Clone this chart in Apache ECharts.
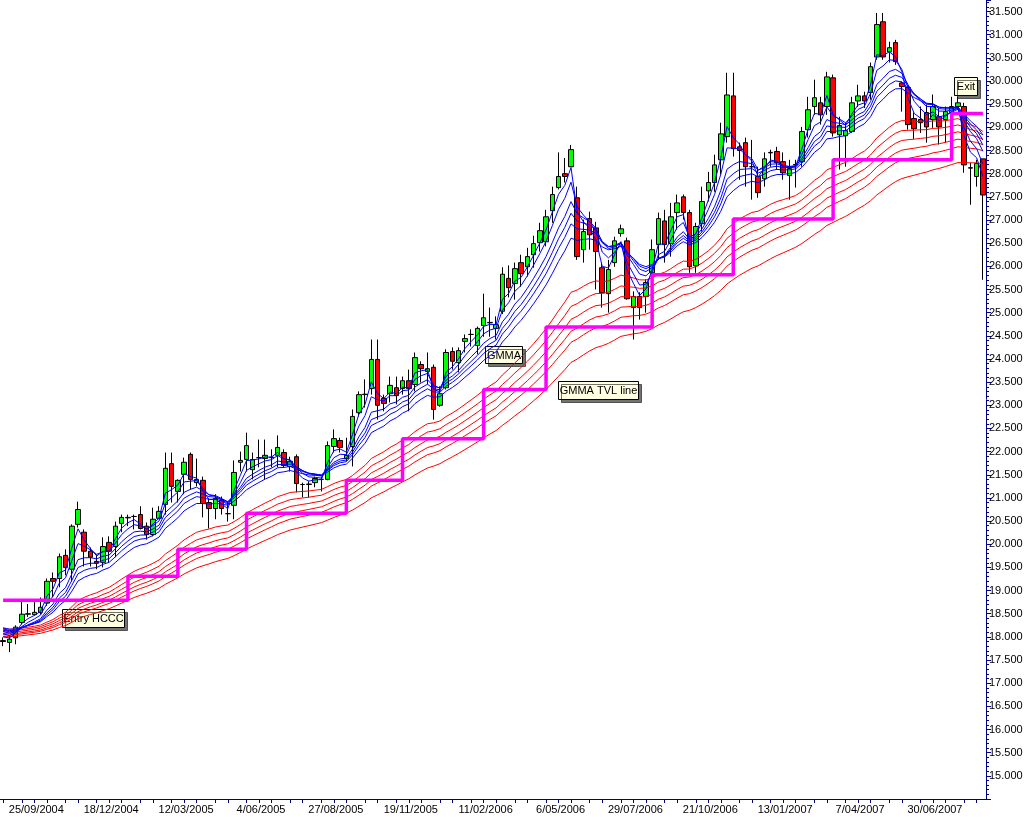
<!DOCTYPE html>
<html><head><meta charset="utf-8">
<script src="https://cdn.jsdelivr.net/npm/echarts@6/dist/echarts.min.js"></script>
<style>html,body{margin:0;padding:0;background:#fff}#c{width:1029px;height:817px}</style>
</head><body><div id="c"></div>
<script>
// ---- data (weekly bars) ----
const firstWeek = [2004, 8, 21]; // year, month, day of first bar
const weekCount = 158;
const opens = [17.92,17.88,17.98,18.31,18.49,18.48,18.53,18.73,19.26,19.26,19.76,19.46,20.43,20.26,19.85,19.63,19.61,20.04,19.95,20.45,
20.57,20.60,20.64,20.39,20.21,20.56,20.86,21.74,21.14,21.51,21.94,21.33,21.38,20.90,20.77,20.95,20.66,20.84,21.77,21.83,
21.61,21.87,21.85,21.87,21.92,21.98,21.68,21.89,21.29,21.29,21.33,21.40,21.40,22.11,22.24,21.85,22.11,22.84,23.23,23.36,
23.99,23.15,23.25,23.38,23.36,23.53,23.45,23.88,23.73,23.82,23.00,23.38,24.16,23.92,24.38,24.53,24.29,24.72,24.78,24.66,
25.03,25.74,25.63,26.08,25.99,26.25,26.51,26.53,27.20,27.70,28.00,28.15,27.48,26.36,27.03,26.83,25.97,25.41,26.08,26.71,
26.55,25.11,25.35,25.35,25.86,26.47,26.98,26.49,27.16,27.50,27.16,26.01,26.92,27.63,27.81,28.30,28.80,29.68,28.58,28.67,
28.15,27.94,27.89,28.45,28.48,28.26,27.96,28.19,28.26,28.95,29.45,29.53,29.45,30.07,28.84,28.82,28.91,29.57,29.68,29.75,
30.52,31.28,30.63,30.83,29.96,29.86,29.19,29.17,29.32,29.17,29.23,29.17,29.32,29.45,29.45,28.13,27.94,28.32];
const closes = [17.90,17.95,18.21,18.49,18.50,18.53,18.64,19.20,19.20,19.73,19.50,20.39,20.75,19.85,19.72,19.59,19.95,19.85,20.39,20.58,
20.58,20.60,20.34,20.21,20.54,20.71,21.64,21.25,21.38,21.77,21.40,21.40,20.88,20.77,20.99,20.77,20.66,21.55,21.81,22.13,
21.83,21.87,21.92,21.88,22.09,21.70,21.79,21.31,21.29,21.30,21.42,21.40,22.13,22.28,22.09,21.92,22.76,23.23,23.24,23.99,
23.00,23.04,23.43,23.21,23.53,23.36,24.03,23.79,23.79,22.91,23.25,24.14,23.95,24.18,24.44,24.53,24.66,24.89,24.79,24.74,
25.83,25.54,25.95,25.84,26.21,26.49,26.77,27.07,27.55,27.94,27.94,28.52,26.21,26.75,26.68,26.32,25.43,25.93,26.55,26.81,
25.30,25.35,25.11,25.65,26.36,27.03,26.47,27.07,27.37,27.16,25.99,26.86,27.40,27.81,28.19,28.86,29.70,28.54,28.50,28.15,
28.15,27.59,28.32,28.46,28.24,28.02,28.11,28.20,28.91,29.38,29.64,29.27,30.09,28.88,29.04,28.93,29.53,29.68,29.57,30.31,
31.22,30.52,30.72,30.42,29.88,29.06,28.97,29.10,29.01,29.45,29.01,29.34,29.45,29.53,28.19,28.12,28.22,27.54];
const lows = [17.80,17.67,17.84,18.27,18.43,18.46,18.48,18.67,18.86,19.07,19.33,19.20,20.36,19.52,19.52,19.46,19.50,19.61,19.72,20.26,
20.39,20.32,20.32,20.10,20.17,20.54,20.64,20.90,20.90,21.08,21.18,21.25,20.58,20.34,20.54,20.64,20.49,20.54,21.57,21.57,
21.40,21.66,21.40,21.66,21.66,21.66,21.57,21.12,21.01,21.01,21.23,21.14,21.38,21.98,21.98,21.79,21.68,22.76,22.95,23.23,
22.69,22.87,23.06,23.02,23.23,22.87,23.30,23.49,23.45,22.69,22.97,23.34,23.77,23.71,24.14,24.27,24.10,24.48,24.48,24.42,
24.97,25.33,25.28,25.56,25.78,25.97,26.32,26.43,26.94,27.66,27.81,28.15,26.14,26.08,26.36,25.50,25.11,25.00,25.99,26.64,
25.28,24.42,24.85,25.00,25.50,26.14,26.08,26.21,26.79,27.01,25.86,25.86,26.75,27.40,27.61,27.98,28.67,28.37,27.87,27.72,
27.44,27.48,27.72,28.15,28.09,27.87,27.44,27.70,28.15,28.78,29.27,29.06,29.27,28.80,28.09,28.15,28.88,29.44,29.42,29.60,
30.46,30.46,30.40,30.35,29.34,28.95,28.75,28.88,28.67,28.99,28.63,28.67,29.27,29.38,28.02,27.33,27.72,25.71];
const highs = [17.99,18.03,18.25,18.75,18.71,18.75,18.85,19.26,19.39,19.80,19.89,20.43,20.92,20.32,19.93,19.78,20.15,20.17,20.49,20.64,
20.64,20.64,20.82,20.47,20.79,20.82,21.98,21.98,21.40,21.87,21.98,21.85,21.46,20.99,21.08,21.03,20.92,21.81,22.00,22.41,
21.98,22.26,22.26,22.05,22.35,22.05,21.89,21.94,21.33,21.36,21.46,21.46,22.22,22.48,22.30,22.30,22.91,23.30,23.56,24.42,
24.42,23.23,23.62,23.62,23.62,23.77,24.14,23.95,24.14,23.88,23.41,24.21,24.25,24.25,24.53,24.64,24.70,25.41,25.11,24.92,
25.98,26.02,26.08,26.25,26.40,26.66,26.94,27.22,27.72,28.46,28.34,28.62,27.72,27.01,27.18,26.96,26.08,26.14,26.64,26.90,
26.62,25.46,25.44,25.72,26.58,27.16,27.22,27.37,27.55,27.55,27.22,26.94,27.72,28.04,28.41,29.10,30.18,30.18,28.67,28.78,
28.73,28.15,28.46,28.52,28.58,28.46,28.30,28.30,29.01,29.66,30.03,29.66,30.20,30.14,29.23,29.10,29.66,29.92,29.77,30.40,
31.47,31.47,30.85,30.89,29.99,29.88,29.32,29.45,29.49,29.71,29.42,29.45,29.66,29.66,29.53,28.24,28.30,28.32];
// GMMA periods (short group blue, long group red) and each line's level at the chart's left edge
const shortPeriods = [3, 5, 8, 10, 12, 15];
const shortStart = [18.10, 18.15, 18.18, 18.20, 18.22, 18.24];
const longPeriods = [30, 35, 40, 45, 50, 60];
const longStart = [18.20, 18.16, 18.12, 18.08, 18.05, 18.01];
// GMMA trailing value line: bar index where each level starts, and the level
const tvlStarts = [0, 20, 28, 39, 55, 64, 77, 87, 104, 117, 133, 152];
const tvlLevels = [18.79, 19.31, 19.89, 20.67, 21.38, 22.28, 23.34, 24.69, 25.82, 27.02, 28.30, 29.30];
// x labels every 12 weeks starting at 25/09/2004 (bar 5)
const labelFirst = 5, labelEvery = 12;
const notes = ['Entry HCCC', 'GMMA', 'GMMA TVL line', 'Exit'];

// ---- build ----
const categories = [];
for (let i = 0; i < weekCount; i++) {
  const d = new Date(Date.UTC(firstWeek[0], firstWeek[1] - 1, firstWeek[2] + 7 * i));
  categories.push(d.getUTCDate() + '/' + String(d.getUTCMonth() + 1).padStart(2, '0') + '/' + d.getUTCFullYear());
}
const ohlc = opens.map((o, i) => [o, closes[i], lows[i], highs[i]]);
function ema(src, n, start) { // exponential moving average of closes (GMMA definition)
  const k = 2 / (n + 1); let e = start;
  return src.map(v => (e = e + k * (v - e)));
}
const tvl = [];
for (let s = 0; s < tvlStarts.length; s++) {
  const end = s + 1 < tvlStarts.length ? tvlStarts[s + 1] : weekCount;
  for (let i = tvlStarts[s]; i < end; i++) tvl[i] = tvlLevels[s];
}
const lineSeries = (periods, starts, color) => periods.map((p, j) => ({
  type: 'line', name: 'EMA' + p, data: ema(closes, p, starts[j]), showSymbol: false, symbol: 'none',
  lineStyle: { color, width: 1 }, silent: true, animation: false, z: 3
}));

const NAVY = '#000080';
const FONT = 'Liberation Sans, Arial, sans-serif';
const chart = echarts.init(document.getElementById('c'), null, { renderer: 'canvas' });

function note(text, x, y, w, h) {
  return { type: 'group', left: x, top: y, z: 100, children: [
    { type: 'rect', shape: { x: 0, y: 0, width: w, height: h },
      style: { fill: '#FFFFE1', stroke: '#000', lineWidth: 1, shadowColor: 'rgba(0,0,0,0.55)', shadowOffsetX: 3, shadowOffsetY: 3, shadowBlur: 0 } },
    { type: 'text', x: w / 2, y: h / 2 + 0.5,
      style: { text, fill: '#000', font: '11px ' + FONT, align: 'center', verticalAlign: 'middle' } }
  ]};
}

chart.setOption({
  backgroundColor: '#ffffff',
  animation: false,
  grid: { left: 0, right: 43, top: 0, height: 799, containLabel: false },
  xAxis: {
    type: 'category', data: categories, boundaryGap: true,
    axisLine: { lineStyle: { color: NAVY, width: 1 } },
    axisTick: { show: true, length: 4, alignWithLabel: true, lineStyle: { color: NAVY },
      interval: (i) => [0, 2, 5, 7, 10].includes(((i - labelFirst) % labelEvery + labelEvery) % labelEvery) },
    axisLabel: { interval: (i) => i >= labelFirst && (i - labelFirst) % labelEvery === 0,
      color: '#000', fontSize: 11, fontFamily: FONT, margin: 5, padding: [0, 0, 0, 4] },
    splitLine: { show: false }
  },
  yAxis: {
    type: 'value', position: 'right', min: 14.5, max: 31.75, interval: 0.5, scale: true,
    axisLine: { show: true, lineStyle: { color: NAVY, width: 1 } },
    axisTick: { show: true, length: 5, lineStyle: { color: NAVY } },
    minorTick: { show: true, splitNumber: 5, length: 3, lineStyle: { color: NAVY } },
    axisLabel: { color: '#000', fontSize: 11, fontFamily: FONT, margin: 3,
      formatter: (v) => (v < 14.99 || v > 31.51) ? '' : v.toFixed(3) },
    splitLine: { show: false }
  },
  series: [
    { type: 'candlestick', data: ohlc, barWidth: 5, z: 2,
      itemStyle: { color: '#00FF00', color0: '#FF0000', borderColor: '#000', borderColor0: '#000', borderColorDoji: '#000', borderWidth: 1 } },
    ...lineSeries(longPeriods, longStart, '#FF0000'),
    ...lineSeries(shortPeriods, shortStart, '#0000FF'),
    { type: 'line', name: 'TVL', data: tvl, step: 'end', showSymbol: false, symbol: 'none',
      lineStyle: { color: '#FF00FF', width: 3.5 }, z: 5 }
  ],
  graphic: [
    note(notes[0], 62, 609, 62, 18),
    note(notes[1], 485, 346, 37, 17),
    note(notes[2], 558, 381, 80, 18),
    note(notes[3], 954, 77, 23, 18)
  ]
});
</script>
</body></html>
